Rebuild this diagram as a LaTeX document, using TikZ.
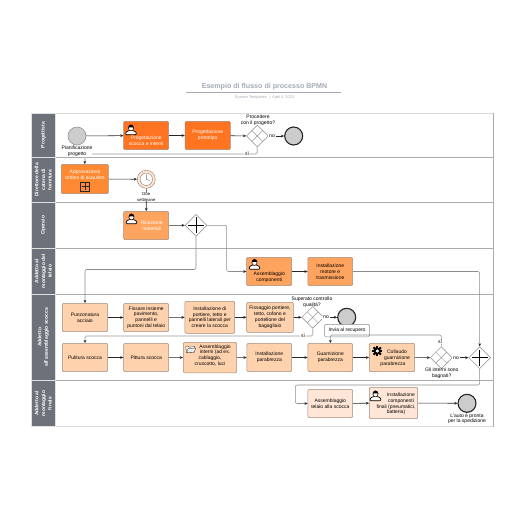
\documentclass[tikz,border=0pt]{standalone}
\usepackage{fontspec}
\setmainfont{Liberation Sans}
\usetikzlibrary{arrows.meta,shapes.geometric}
\definecolor{hdr}{HTML}{6C717A}
\definecolor{lane}{HTML}{ABABAB}
\definecolor{strong}{HTML}{FF7420}
\definecolor{mid}{HTML}{FF8A33}
\definecolor{soft}{HTML}{FFA45E}
\definecolor{peach}{HTML}{FFD2AE}
\definecolor{pale}{HTML}{FFE6D6}
\definecolor{edgec}{HTML}{A08C7E}
\definecolor{titlec}{HTML}{A4A9B4}
\tikzset{
  txt/.style={font=\fontsize{5}{5.8}\selectfont,align=center,inner sep=0pt,text=black},
  wtxt/.style={txt,text=white},
  task/.style={draw=edgec,line width=.5pt,rounded corners=1.2pt,inner sep=0pt,
     font=\fontsize{5}{5.8}\selectfont,align=center,text=black},
  hdrbox/.style={fill=hdr,draw=black!12,line width=.5pt,minimum width=24pt,inner sep=0pt},
  hdrtxt/.style={rotate=90,text=white,font=\bfseries\fontsize{5}{6.6}\selectfont,align=center,inner sep=0pt},
  gw/.style={diamond,draw=black!45,fill=white,line width=.5pt,minimum width=22pt,minimum height=22pt,inner sep=0pt},
  startev/.style={circle,draw=black!45,fill=black!20,line width=.5pt,minimum size=18pt,inner sep=0pt},
  endev/.style={circle,draw=black!85,fill=black!20,line width=1.1pt,minimum size=18pt,inner sep=0pt},
  flow/.style={draw=black!85,line width=.55pt,-{Stealth[length=3.2pt,width=2.8pt]}},
  elbow/.style={draw=black!45,line width=.55pt,rounded corners=2pt,-{Stealth[length=3.2pt,width=2.8pt,black!85]}},
  wide/.style={draw=black!22,line width=1.3pt,rounded corners=2pt,-{Stealth[length=3.2pt,width=2.8pt,black!85]}},
  lab/.style={txt,fill=white,inner xsep=.8pt,inner ysep=.3pt},
  pics/xm/.style={code={\draw[black!40,line width=.45pt] (-5.5,-5.5)--(5.5,5.5) (-5.5,5.5)--(5.5,-5.5);}},
  pics/pm/.style={code={\draw[black,line width=.55pt] (-8,0)--(8,0) (0,-8)--(0,8);}},
  pics/person/.style={code={
     \draw[black,fill=white,line width=.65pt,rounded corners=.8pt] (-5.3,5.2)--(-5.3,2.8)--(-2,1)--(2,1)--(5.3,2.8)--(5.3,5.2)--cycle;
     \draw[black,fill=white,line width=.5pt] (0,-1.6) circle[x radius=2.6,y radius=3];
     \fill[black] (-2.7,-1.6) arc[start angle=180,end angle=360,x radius=2.7,y radius=3.2]--(1.6,-2.2)--(-1.6,-2.2)--cycle;}},
  pics/gear/.style={code={
     \foreach \a in {0,45,...,315}{\fill[black,rotate=\a] (-.9,-5) rectangle (.9,5);}
     \fill[black] (0,0) circle[radius=3.6];
     \fill[white] (0,0) circle[radius=1.7];}},
  pics/folder/.style={code={
     \draw[black!70,fill=white,line width=.4pt] (-5,-2.5)--(-2,-3)--(-1.4,-2)--(4,-2.8)--(3.6,2.8)--(-4,3.4)--cycle;
     \draw[black!70,fill=black!8,line width=.4pt] (-4,3.4)--(-2.8,-.6)--(5,-1.3)--(3.6,2.8)--cycle;}},
}
\begin{document}
\begin{tikzpicture}[x=1pt,y=-1pt]
\useasboundingbox (0,0) rectangle (516,516);
% title
\node[inner sep=0pt,text=titlec,font=\bfseries\fontsize{7.1}{8}\selectfont] (title) at (264.5,87) {Esempio di flusso di processo BPMN};
\draw[titlec,line width=.7pt] (186,92.5)--(341,92.5);
\node[inner sep=0pt,text=titlec,font=\fontsize{3.9}{5}\selectfont] (sub) at (264.5,97.5) {System Templates \ | \ April 4, 2023};
% pool
\draw[black!14,line width=.7pt] (31.3,113)--(493.3,113);
\draw[black!14,line width=.7pt] (31.3,426.7)--(493.3,426.7);
\draw[lane,line width=.5pt] (493.3,113)--(493.3,426.7);
\foreach \yy in {157.3,202.3,248.3,294.3,380.3}{\draw[lane,line width=.6pt] (55,\yy)--(493.3,\yy);}
\node[hdrbox,minimum height=44.3pt] (h1) at (43.3,135.2) {};
\node[hdrbox,minimum height=45pt] (h2) at (43.3,179.8) {};
\node[hdrbox,minimum height=46pt] (h3) at (43.3,225.3) {};
\node[hdrbox,minimum height=46pt] (h4) at (43.3,271.3) {};
\node[hdrbox,minimum height=86pt] (h5) at (43.3,337.3) {};
\node[hdrbox,minimum height=46.4pt] (h6) at (43.3,403.5) {};
\node[hdrtxt] (ht1) at (h1) {Progettista};
\node[hdrtxt] (ht2) at (h2) {Direttore della\\catena di\\fornitura};
\node[hdrtxt] (ht3) at (h3) {Operaio};
\node[hdrtxt] (ht4) at (h4) {Addetto al\\montaggio del\\telaio};
\node[hdrtxt] (ht5) at (h5) {Addetto\\all'assemblaggio scocca};
\node[hdrtxt] (ht6) at (h6) {Addetto al\\montaggio\\finale};
% row 1
\node[startev] (s1) at (77,136) {};
\node[task,fill=strong,minimum width=45pt,minimum height=28.4pt] (t1) at (146.2,135.5) {};
\node[task,fill=strong,text=white,minimum width=45.3pt,minimum height=28.4pt] (t2) at (207.7,135.5) {Progettazione\\prototipo};
\node[gw] (g1) at (257.3,136) {};
\node[endev] (e1) at (293.7,136) {};
% row 2
\node[task,fill=mid,minimum width=47pt,minimum height=29.4pt] (t3) at (84.8,179) {};
\node[circle,draw=edgec,fill=pale,line width=.5pt,minimum size=18pt,inner sep=0pt] (tm) at (146.3,179.3) {};
% row 3
\node[task,fill=soft,minimum width=45pt,minimum height=28.4pt] (t4) at (146.2,225.5) {};
\node[gw] (g2) at (196,225.3) {};
% row 4
\node[task,fill=soft,minimum width=45pt,minimum height=28.4pt] (t5) at (269.2,271.5) {};
\node[task,fill=soft,minimum width=44.7pt,minimum height=28.4pt] (t6) at (330.3,271.5) {Installazione\\motore e\\trasmissione};
% row 5
\node[task,fill=peach,minimum width=45.4pt,minimum height=28.4pt] (t7) at (85,317.5) {Punzonatura\\acciaio};
\node[task,fill=peach,minimum width=45pt,minimum height=28.4pt] (t8) at (146.2,317.5) {Fissare insieme\\pavimento,\\pannelli e\\puntoni dal telaio};
\node[task,fill=peach,minimum width=49.7pt,minimum height=32pt] (t9) at (209.8,317.3) {Installazione di\\portiere, tetto e\\pannelli laterali per\\creare la scocca};
\node[task,fill=peach,minimum width=46.6pt,minimum height=30pt] (t10) at (270,317.3) {Fissaggio portiere,\\tetto, cofano e\\portellone del\\bagagliaio};
\node[gw] (g3) at (312.7,317.3) {};
\node[endev] (e2) at (346.7,317.3) {};
% row 6
\node[task,fill=peach,minimum width=45.4pt,minimum height=28.4pt] (t11) at (85,357.5) {Pulitura scocca};
\node[task,fill=peach,minimum width=45pt,minimum height=28.4pt] (t12) at (146.2,357.5) {Pittura scocca};
\node[task,fill=peach,minimum width=53.4pt,minimum height=30.6pt] (t13) at (210,357.6) {};
\node[task,fill=peach,minimum width=44.7pt,minimum height=28.4pt] (t14) at (269.3,357.5) {Installazione\\parabrezza};
\node[task,fill=peach,minimum width=44.7pt,minimum height=28.4pt] (t15) at (330.3,357.5) {Guarnizione\\parabrezza};
\node[task,fill=peach,minimum width=45.4pt,minimum height=28.4pt] (t16) at (392,357.5) {};
\node[gw] (g4) at (441.3,357.7) {};
\node[gw] (g5) at (479.7,357.7) {};
% row 7
\node[task,fill=pale,minimum width=44.7pt,minimum height=28.4pt] (t17) at (330.3,403.5) {Assemblaggio\\telaio alla scocca};
\node[task,fill=pale,minimum width=48.4pt,minimum height=31.4pt] (t18) at (393.5,403) {};
\node[endev] (e3) at (467,403.3) {};
% task texts that sit off centre, and icons
\node[wtxt] (x1) at (146.2,140.6) {Progettazione\\scocca e interni};
\pic at (131,129.5) {person};
\node[wtxt] (x3) at (85,175.2) {Approvazione\\ordine di acquisto};
\node[draw=black!85,fill=mid,line width=.7pt,minimum size=9pt,inner sep=0pt] (sub1) at (85,186.7) {};
\draw[black!85,line width=.6pt] (81.5,186.7)--(88.5,186.7) (85,183.2)--(85,190.2);
\node[wtxt] (x4) at (151.7,226) {Ricezione\\materiali};
\pic at (131.5,218.5) {person};
\node[txt] (x5) at (269.2,277) {Assemblaggio\\componenti};
\pic at (254.5,264) {person};
\node[txt] (x13) at (210,355.3) {\hspace{10pt}Assemblaggio\\\hspace{10pt}interni (ad es.\\cablaggio,\\cruscotto, luci};
\pic at (190.7,349.3) {folder};
\node[txt] (x16) at (393,358) {\hspace{8pt}Collaudo\\\hspace{8pt}guarnizione\\parabrezza};
\pic at (377.3,351) {gear};
\node[txt] (x18) at (396,404) {\hspace{10pt}Installazione\\\hspace{10pt}componenti\\finali (pneumatici,\\batteria)};
\pic at (375.5,395.5) {person};
% gateway marks
\pic at (g1) {xm};
\pic at (g3) {xm};
\pic at (g4) {xm};
\pic at (g2) {pm};
\pic at (g5) {pm};
% timer details
\node[circle,draw=edgec,fill=white,line width=.5pt,minimum size=12.5pt,inner sep=0pt] (tmi) at (tm) {};
\draw[black!60,line width=.4pt] (tmi.center)--++(0,-4.6) (tmi.center)--++(3.4,1.2);
% recovery box
\node[draw=black!45,fill=white,rounded corners=1.5pt,line width=.5pt,minimum width=45pt,minimum height=12.5pt,inner sep=0pt,font=\fontsize{5}{5.8}\selectfont,text=black] (rec) at (347,330.5) {Invia al recupero};
% waypoints
\coordinate (c1) at (85,154);
\coordinate (c2) at (85,269.5);
\coordinate (c3) at (226.7,271.5);
\coordinate (c4) at (85,336);
\coordinate (c5) at (330.3,335);
\coordinate (c6) at (295.3,385);
\coordinate (c7) at (295.3,403.5);
% connectors
\draw[flow] (s1)--(t1);
\draw[flow] (t1)--(t2);
\draw[flow] (t2)--(g1);
\draw[flow] (g1)--(e1);
\draw[wide] (g1.south) |- (c1) -- (t3.north);
\draw[flow] (t3)--(tm);
\draw[flow] (tm)--(t4);
\draw[flow] (t4)--(g2);
\draw[elbow] (g2.south) |- (c2) -- (t7.north);
\draw[elbow] (g2.east) -| (c3) -- (t5.west);
\draw[flow] (t5)--(t6);
\draw[elbow] (t6.east) -| (g5.north);
\draw[flow] (t7)--(t8);
\draw[flow] (t8)--(t9);
\draw[flow] (t9)--(t10);
\draw[flow] (t10)--(g3);
\draw[flow] (g3)--(e2);
\draw[wide] (g3.south) |- (c4) -- (t11.north);
\draw[flow] (t11)--(t12);
\draw[flow] (t12)--(t13);
\draw[flow] (t13)--(t14);
\draw[flow] (t14)--(t15);
\draw[flow] (t15)--(t16);
\draw[flow] (t16)--(g4);
\draw[flow] (g4)--(g5);
\draw[elbow] (g4.north) |- (c5) -- (t15.north);
\draw[elbow] (g5.south) |- (c6) -- (c7) -- (t17.west);
\draw[flow] (t17)--(t18);
\draw[flow] (t18)--(e3);
% labels
\node[txt,fill=white,inner ysep=.3pt] (l1) at (77,151.6) {Pianificazione\\progetto};
\node[txt] (l2) at (258,120.3) {Procedere\\con il progetto?};
\node[lab] (l3) at (272,136) {no};
\node[lab] (l4) at (247,154) {sì};
\node[lab,font=\fontsize{4.2}{5.4}\selectfont] (l5) at (146.3,197) {Due\\settimane};
\node[txt] (l6) at (312,302) {Superato controllo\\qualità?};
\node[lab] (l7) at (326,317.3) {no};
\node[lab] (l8) at (303,336) {sì};
\node[lab] (l9) at (440,341.7) {sì};
\node[lab] (l10) at (456,357.7) {no};
\node[txt] (l11) at (441.7,373) {Gli interni sono\\bagnati?};
\node[txt] (l12) at (467,418.7) {L'auto è pronta\\per la spedizione};
\end{tikzpicture}
\end{document}
